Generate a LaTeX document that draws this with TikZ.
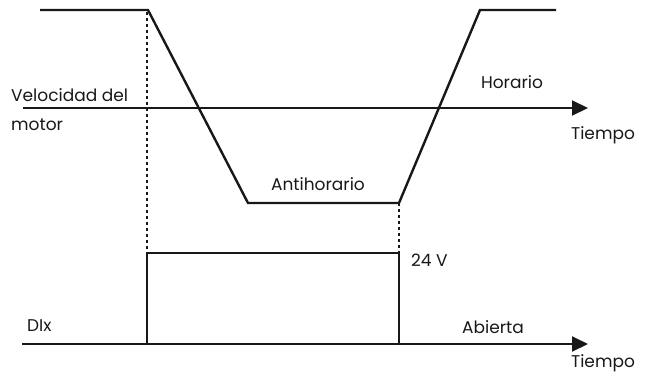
\documentclass[tikz,border=0pt]{standalone}
\usepackage{fontspec}
\setmainfont{Poppins}
\usetikzlibrary{arrows.meta}
\definecolor{inkdark}{HTML}{1A1717}
\begin{document}
\begin{tikzpicture}[x=1pt,y=-1pt,
    wave/.style={inkdark,line width=2.4pt,line join=miter},
    timeaxis/.style={inkdark,line width=2pt,-{Triangle[length=16pt,width=15pt]}},
    guide/.style={inkdark,line width=2pt,dash pattern=on 3pt off 3pt},
    lbl/.style={inkdark,font=\fontsize{17}{29}\selectfont,inner sep=0pt}]
  \useasboundingbox (0,0) rectangle (654,378);
  % velocidad del motor
  \coordinate (v0) at (40,10);
  \coordinate (v1) at (148,10);
  \coordinate (v2) at (248,203);
  \coordinate (v3) at (399,203);
  \coordinate (v4) at (480,10);
  \coordinate (v5) at (556,10);
  \coordinate (a0) at (23,108);
  \coordinate (a1) at (588,108);
  \draw[timeaxis] (a0) -- (a1);
  \draw[wave] (v0) -- (v1) -- (v2) -- (v3) -- (v4) -- (v5);
  % entrada digital
  \coordinate (d0) at (22,344);
  \coordinate (d1) at (147,344);
  \coordinate (d2) at (147,253);
  \coordinate (d3) at (399,253);
  \coordinate (d4) at (399,344);
  \coordinate (d5) at (588,344);
  \draw[timeaxis] (d0) -- (d5);
  \draw[wave] (d1) -- (d2) -- (d3) -- (d4);
  \draw[guide] (147,12) -- (d2);
  \draw[guide] (v3) -- (d3);
  % textos
  \node[lbl,anchor=west,align=left] (vel) at (11,110) {Velocidad del\\motor};
  \node[lbl] (hor) at (512,82) {Horario};
  \node[lbl] (anti) at (318,184) {Antihorario};
  \node[lbl] (t1) at (603,135) {Tiempo};
  \node[lbl,anchor=west] (volt) at (411,260) {24 V};
  \node[lbl,anchor=west] (dix) at (27,326) {DIx};
  \node[lbl] (abi) at (493,327) {Abierta};
  \node[lbl] (t2) at (603,363) {Tiempo};
\end{tikzpicture}
\end{document}
